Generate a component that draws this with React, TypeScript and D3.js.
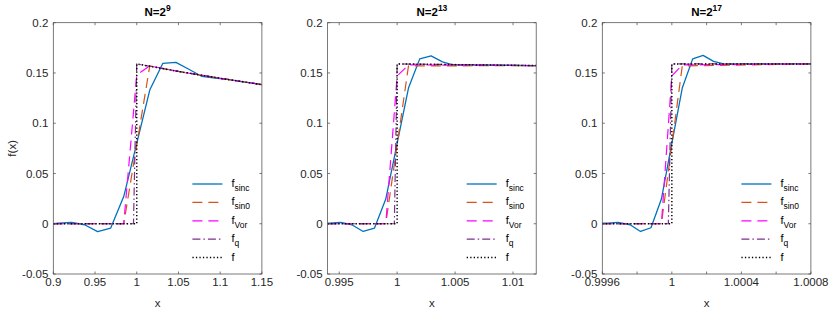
import React from "react";
import * as d3 from "d3";

type Pt = [number, number];

// y axis shared by all three panels
const yTicks = [-0.05, 0, 0.05, 0.1, 0.15, 0.2];
const yTickLabels = ["-0.05", "0", "0.05", "0.1", "0.15", "0.2"];

// panel N=2^9
const xTicks9 = [0.9, 0.95, 1, 1.05, 1.1, 1.15];
const xLabels9 = ["0.9", "0.95", "1", "1.05", "1.1", "1.15"];
const sinc9: Pt[] = [[0.9, 0], [0.9063, 0.0005], [0.9219, 0.0013], [0.9375, -0.001], [0.9531, -0.0078], [0.9688, -0.0043], [0.9844, 0.027], [1, 0.08], [1.0156, 0.133], [1.0313, 0.1596], [1.0469, 0.1606], [1.0625, 0.1537], [1.0781, 0.1465], [1.0938, 0.145], [1.1094, 0.1436], [1.125, 0.1413], [1.1406, 0.1396], [1.15, 0.1384]];
const sin0_9: Pt[] = [[0.9, 0], [0.9844, 0], [1.0156, 0.157], [1.05, 0.1515], [1.1, 0.1447], [1.15, 0.1384]];
const vor9: Pt[] = [[0.9, 0], [0.9844, 0], [1, 0.148], [1.0156, 0.157], [1.05, 0.1515], [1.1, 0.1447], [1.15, 0.1384]];
const q9: Pt[] = [[0.9, 0], [0.9961, 0], [1, 0.159], [1.05, 0.1515], [1.1, 0.1447], [1.15, 0.1384]];
const f9: Pt[] = [[0.9, 0], [1, 0], [1, 0.159], [1.05, 0.1515], [1.1, 0.1447], [1.15, 0.1384]];

// panel N=2^13
const xTicks13 = [0.995, 1, 1.005, 1.01];
const xLabels13 = ["0.995", "1", "1.005", "1.01"];
const sinc13: Pt[] = [[0.994, 0.0005], [0.99414, 0.0005], [0.99512, 0.0013], [0.99609, -0.001], [0.99707, -0.0077], [0.99805, -0.0043], [0.99902, 0.0246], [1, 0.08], [1.00098, 0.135], [1.00195, 0.164], [1.00293, 0.167], [1.00391, 0.161], [1.00488, 0.1578], [1.00586, 0.1582], [1.00684, 0.1581], [1.012, 0.1573]];
const sin0_13: Pt[] = [[0.994, 0], [0.99902, 0], [1.00098, 0.157], [1.012, 0.1573]];
const vor13: Pt[] = [[0.994, 0], [0.99902, 0], [1, 0.147], [1.00098, 0.158], [1.012, 0.1573]];
const q13: Pt[] = [[0.994, 0], [0.99976, 0], [1, 0.159], [1.012, 0.1573]];
const f13: Pt[] = [[0.994, 0], [1, 0], [1, 0.159], [1.012, 0.1573]];

// panel N=2^17
const xTicks17 = [0.9996, 0.9998, 1, 1.0002, 1.0004, 1.0006, 1.0008];
const xLabels17 = ["0.9996", "", "1", "", "1.0004", "", "1.0008"];
const sinc17: Pt[] = [[0.9996, 0.0005], [0.99963, 0.0005], [0.99969, 0.0013], [0.99976, -0.001], [0.99982, -0.0077], [0.99988, -0.004], [0.99994, 0.0246], [1, 0.08], [1.00006, 0.135], [1.00012, 0.164], [1.00018, 0.1675], [1.00024, 0.1615], [1.00031, 0.1585], [1.00037, 0.159], [1.0008, 0.159]];
const sin0_17: Pt[] = [[0.9996, 0], [0.99994, 0], [1.00006, 0.157], [1.0008, 0.159]];
const vor17: Pt[] = [[0.9996, 0], [0.99994, 0], [1, 0.147], [1.00006, 0.158], [1.0008, 0.159]];
const q17: Pt[] = [[0.9996, 0], [0.99998, 0], [1, 0.159], [1.0008, 0.159]];
const f17: Pt[] = [[0.9996, 0], [1, 0], [1, 0.159], [1.0008, 0.159]];

const legendSubs = ["sinc", "sin0", "Vor", "q", ""];

const styles = [
  { color: "#0072BD", dash: "none", width: 1.3 },
  { color: "#D95319", dash: "10,6", width: 1.2 },
  { color: "#FF00FF", dash: "10,6", width: 1.2 },
  { color: "#7E2F8E", dash: "8,3,1.5,3", width: 1.2 },
  { color: "#000000", dash: "1.3,2.2", width: 1.5 },
];

const panels = [
  { exp: "9", domain: [0.9, 1.15], ticks: xTicks9, labels: xLabels9, series: [sinc9, sin0_9, vor9, q9, f9], left: 53.3 },
  { exp: "13", domain: [0.994, 1.012], ticks: xTicks13, labels: xLabels13, series: [sinc13, sin0_13, vor13, q13, f13], left: 327.6 },
  { exp: "17", domain: [0.9996, 1.0008], ticks: xTicks17, labels: xLabels17, series: [sinc17, sin0_17, vor17, q17, f17], left: 602.3 },
];

const plotW = 208.6;
const top = 22.7;
const bottom = 274;
const font = "'Liberation Sans', Arial, Helvetica, sans-serif";
const axisColor = "#4d4d4d";
const textColor = "#262626";
const tickFont = 11.5;

function Panel({ p, showYLabel }: { p: typeof panels[0]; showYLabel: boolean }) {
  const x = d3.scaleLinear().domain(p.domain).range([p.left, p.left + plotW]);
  const y = d3.scaleLinear().domain([-0.05, 0.2]).range([bottom, top]);
  const line = d3.line<Pt>().x(d => x(d[0])).y(d => y(d[1]));
  const right = p.left + plotW;
  const cx = p.left + plotW / 2;
  const tk = 2.5;

  const legX = right - 69.5;
  const legY0 = 184;
  const legDy = 18.4;

  return (
    <g>
      <defs>
        <clipPath id={"clip" + p.exp}>
          <rect x={p.left} y={top} width={plotW} height={bottom - top} />
        </clipPath>
      </defs>
      <g clipPath={`url(#clip${p.exp})`} fill="none">
        {p.series.map((s, i) => (
          <path key={i} d={line(s) || ""} stroke={styles[i].color} strokeWidth={styles[i].width}
            strokeDasharray={styles[i].dash} strokeLinejoin="round" />
        ))}
      </g>
      {/* box */}
      <rect x={p.left} y={top} width={plotW} height={bottom - top} fill="none" stroke={axisColor} strokeWidth={0.75} />
      {/* x ticks */}
      {p.ticks.map((t, i) => (
        <g key={"xt" + i}>
          <line x1={x(t)} x2={x(t)} y1={bottom} y2={bottom - tk} stroke={axisColor} strokeWidth={0.75} />
          <line x1={x(t)} x2={x(t)} y1={top} y2={top + tk} stroke={axisColor} strokeWidth={0.75} />
          {p.labels[i] && (
            <text x={x(t)} y={286} textAnchor="middle" fontSize={tickFont} fill={textColor} fontFamily={font}>{p.labels[i]}</text>
          )}
        </g>
      ))}
      {/* y ticks */}
      {yTicks.map((t, i) => (
        <g key={"yt" + i}>
          <line x1={p.left} x2={p.left + tk} y1={y(t)} y2={y(t)} stroke={axisColor} strokeWidth={0.75} />
          <line x1={right} x2={right - tk} y1={y(t)} y2={y(t)} stroke={axisColor} strokeWidth={0.75} />
          <text x={p.left - 5} y={y(t)} dy="0.35em" textAnchor="end" fontSize={tickFont} fill={textColor} fontFamily={font}>{yTickLabels[i]}</text>
        </g>
      ))}
      {/* title */}
      <text x={cx} y={16} textAnchor="middle" fontSize={11.5} fontWeight="bold" fill="#000" fontFamily={font}>
        N=2<tspan fontSize={8.5} dy={-5}>{p.exp}</tspan>
      </text>
      <text x={cx} y={307} textAnchor="middle" fontSize={tickFont} fill={textColor} fontFamily={font}>x</text>
      {showYLabel && (
        <text transform={`translate(16,${(top + bottom) / 2}) rotate(-90)`} textAnchor="middle" fontSize={tickFont} fill={textColor} fontFamily={font}>f(x)</text>
      )}
      {/* legend */}
      {legendSubs.map((sub, i) => {
        const ly = legY0 + i * legDy;
        return (
          <g key={"lg" + i}>
            <line x1={legX} x2={legX + 30} y1={ly} y2={ly} stroke={styles[i].color} strokeWidth={styles[i].width}
              strokeDasharray={styles[i].dash} />
            <text x={legX + 39} y={ly + 3} fontSize={11} fill="#000" fontFamily={font}>
              f{sub && <tspan fontSize={8.5} dy={4}>{sub}</tspan>}
            </text>
          </g>
        );
      })}
    </g>
  );
}

export default function App() {
  return (
    <div style={{ position: "fixed", left: 0, top: 0, width: 830, height: 310, background: "#fff" }}>
      <svg width={830} height={310} viewBox="0 0 830 310">
        <rect width={830} height={310} fill="#fff" />
        {panels.map((p, i) => (
          <Panel key={i} p={p} showYLabel={i === 0} />
        ))}
      </svg>
    </div>
  );
}
